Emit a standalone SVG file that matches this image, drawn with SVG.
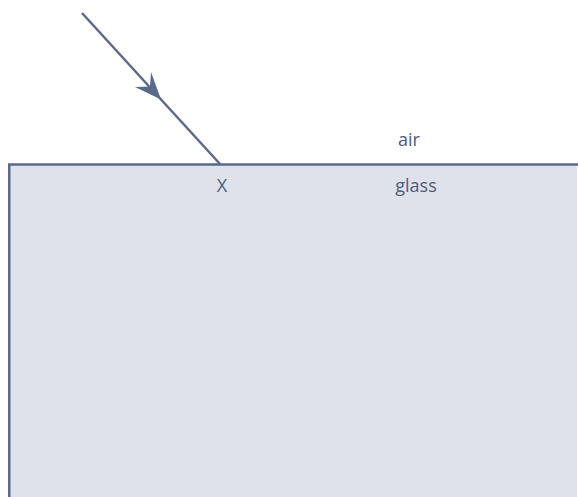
<svg xmlns="http://www.w3.org/2000/svg" width="578" height="497" viewBox="0 0 578 497">
<style>
.lbl{font-family:"Open Sans","Liberation Sans",sans-serif;font-size:18px;fill:#4d5c7c;text-anchor:middle}
.edge{stroke:#5b6a8a;stroke-width:2.5;fill:none}
</style>
<rect width="578" height="497" fill="#ffffff"/>
<g id="glass">
<rect x="8" y="164" width="569" height="340" fill="#dfe2ea"/>
<path class="edge" d="M9.25,497 V164.5 H578"/>
<text class="lbl" x="416" y="192">glass</text>
</g>
<g id="air">
<text class="lbl" x="409" y="146">air</text>
</g>
<g id="X">
<text class="lbl" x="222" y="192">X</text>
</g>
<g id="connectors">
<line class="edge" x1="82" y1="13" x2="220" y2="164"/>
<path d="M161,99.5 L135,87 L150,86.5 L151,72 Z" fill="#5b6a8a"/>
</g>
</svg>
